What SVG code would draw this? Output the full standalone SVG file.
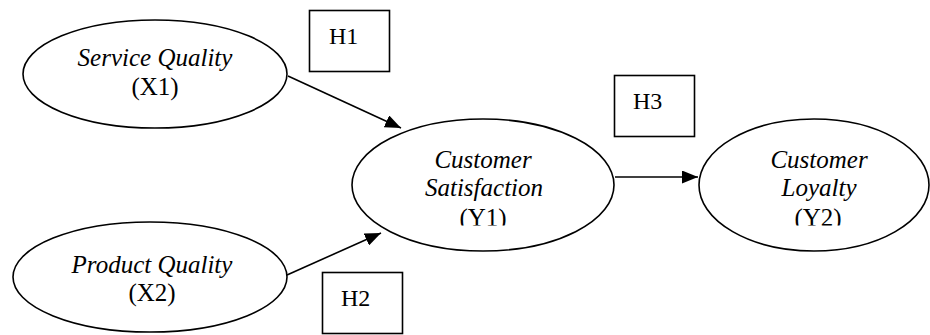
<svg xmlns="http://www.w3.org/2000/svg" width="930" height="335" viewBox="0 0 930 335">
<style>
.node{fill:#fff;stroke:#000;stroke-width:1.6}
.box{fill:#fff;stroke:#000;stroke-width:1.6}
.t{font-family:"Liberation Serif","Times New Roman",serif;font-size:25px;fill:#000}
.h{font-size:24px}
.i{font-style:italic}
.c{text-anchor:middle}
.edge{stroke:#000;stroke-width:1.6;fill:none}
</style>
<defs>
<marker id="ah" markerUnits="userSpaceOnUse" markerWidth="17" markerHeight="13" refX="16" refY="6.5" orient="auto">
<path d="M0,0 L16,6.5 L0,13 z" fill="#000"/>
</marker>
<clipPath id="clipTxt"><rect x="0" y="0" width="930" height="225.5"/></clipPath>
</defs>
<g id="connectors">
<line class="edge" x1="288" y1="76" x2="401" y2="128" marker-end="url(#ah)"/>
<line class="edge" x1="287" y1="275" x2="381" y2="233" marker-end="url(#ah)"/>
<line class="edge" x1="615" y1="177" x2="698" y2="177" marker-end="url(#ah)"/>
</g>
<g id="x1">
<ellipse class="node" cx="155" cy="74" rx="132" ry="54"/>
<text class="t i c" x="155" y="66">Service Quality</text>
<text class="t c" x="155" y="95">(X1)</text>
</g>
<g id="x2">
<ellipse class="node" cx="150" cy="277" rx="137" ry="55"/>
<text class="t i c" x="152" y="273">Product Quality</text>
<text class="t c" x="152" y="301">(X2)</text>
</g>
<g id="y1">
<ellipse class="node" cx="483" cy="185" rx="131" ry="66"/>
<g clip-path="url(#clipTxt)">
<text class="t i c" x="483" y="168">Customer</text>
<text class="t i c" x="484" y="196">Satisfaction</text>
<text class="t c" x="483" y="226">(Y1)</text>
</g>
</g>
<g id="y2">
<ellipse class="node" cx="814" cy="185" rx="115" ry="66"/>
<g clip-path="url(#clipTxt)">
<text class="t i c" x="819" y="168">Customer</text>
<text class="t i c" x="819" y="196">Loyalty</text>
<text class="t c" x="818" y="226">(Y2)</text>
</g>
</g>
<g id="h1">
<rect class="box" x="309.5" y="10.5" width="80" height="61"/>
<text class="t h" x="329" y="44">H1</text>
</g>
<g id="h2">
<rect class="box" x="322.5" y="272.5" width="80" height="61"/>
<text class="t h" x="341" y="306">H2</text>
</g>
<g id="h3">
<rect class="box" x="614.5" y="75.5" width="80" height="61"/>
<text class="t h" x="633" y="109">H3</text>
</g>
</svg>
